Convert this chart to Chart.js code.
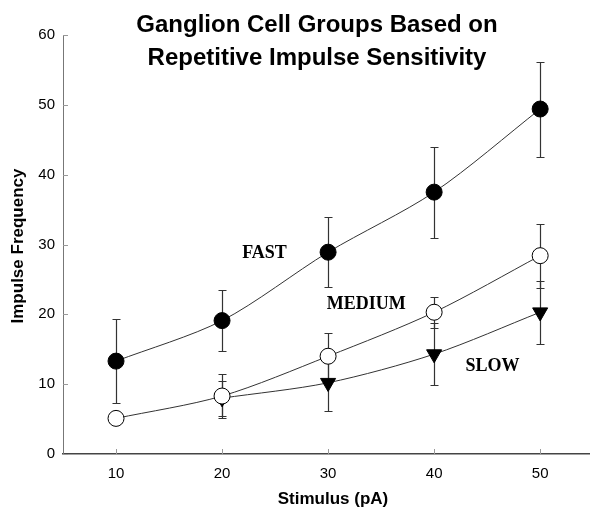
<!DOCTYPE html>
<html>
<head>
<meta charset="utf-8">
<script src="https://cdn.jsdelivr.net/npm/chart.js@4"></script>
<style>
  html, body { margin: 0; padding: 0; background: #fff; }
</style>
</head>
<body>
<canvas id="ganglion-chart" width="590" height="510"></canvas>
<script>
// Stimulus steps and the mean impulse frequency (+/- SD) for each cell group
const stimulus = [10, 20, 30, 40, 50];
const xTickValues = [10, 20, 30, 40, 50];

const fastMean = [13.3, 19.1, 28.9, 37.5, 49.4];
const fastSd = [6.0, 4.4, 5.0, 6.5, 6.8];

const mediumMean = [5.1, 8.3, 14.0, 20.3, 28.4];
const mediumSd = [0.8, 3.2, 3.3, 2.2, 4.6];

const slowMean = [null, 8.0, 10.2, 14.3, 20.3];
const slowSd = [null, 2.5, 4.1, 4.4, 4.5];

const groupNames = ["FAST", "MEDIUM", "SLOW"];
const titleLines = ["Ganglion Cell Groups Based on", "Repetitive Impulse Sensitivity"];
const xTitle = "Stimulus (pA)";
const yTitle = "Impulse Frequency";

const sdSets = [fastSd, mediumSd, slowSd];

// where each group name sits, in data units
const groupTagAt = [
  { x: 24.0, y: 28.8 },
  { x: 33.6, y: 21.5 },
  { x: 45.5, y: 12.6 },
];

const toPoints = (values) => stimulus.map((x, i) => ({ x: x, y: values[i] }));

// vertical error bars with caps, drawn under the lines and symbols
const errorBars = {
  id: "errorBars",
  beforeDatasetsDraw(chart) {
    const ctx = chart.ctx;
    const yScale = chart.scales.y;
    ctx.save();
    ctx.strokeStyle = "#333";
    ctx.lineWidth = 1.2;
    chart.data.datasets.forEach((ds, i) => {
      const meta = chart.getDatasetMeta(i);
      const sds = sdSets[i];
      ds.data.forEach((pt, j) => {
        if (pt.y == null || sds[j] == null) return;
        const px = Math.round(meta.data[j].x) + 0.5;
        const top = Math.round(yScale.getPixelForValue(pt.y + sds[j])) + 0.5;
        const bot = Math.round(yScale.getPixelForValue(pt.y - sds[j])) + 0.5;
        ctx.beginPath();
        ctx.moveTo(px, top);
        ctx.lineTo(px, bot);
        ctx.moveTo(px - 4, top);
        ctx.lineTo(px + 4, top);
        ctx.moveTo(px - 4, bot);
        ctx.lineTo(px + 4, bot);
        ctx.stroke();
      });
    });
    ctx.restore();
  },
};

// short inward tick marks on both axes
const innerTicks = {
  id: "innerTicks",
  beforeDatasetsDraw(chart) {
    const { ctx, chartArea, scales } = chart;
    ctx.save();
    ctx.strokeStyle = "#999";
    ctx.lineWidth = 1;
    ctx.beginPath();
    scales.y.ticks.forEach((t) => {
      const py = Math.round(scales.y.getPixelForValue(t.value)) + 0.5;
      ctx.moveTo(chartArea.left, py);
      ctx.lineTo(chartArea.left + 5, py);
    });
    scales.x.ticks.forEach((t) => {
      const px = Math.round(scales.x.getPixelForValue(t.value)) + 0.5;
      ctx.moveTo(px, chartArea.bottom);
      ctx.lineTo(px, chartArea.bottom - 5);
    });
    ctx.stroke();
    ctx.restore();
  },
};

// title, axis titles and the group names
const chartText = {
  id: "chartText",
  afterDraw(chart) {
    const { ctx, scales } = chart;
    ctx.save();
    ctx.fillStyle = "#000";
    ctx.textAlign = "center";
    ctx.textBaseline = "middle";

    ctx.font = "bold 24px 'Liberation Sans', Arial, sans-serif";
    ctx.fillText(titleLines[0], 317, 25);
    ctx.fillText(titleLines[1], 317, 58);

    ctx.font = "bold 17px 'Liberation Sans', Arial, sans-serif";
    ctx.fillText(xTitle, 333, 499);
    ctx.save();
    ctx.translate(18, 246);
    ctx.rotate(-Math.PI / 2);
    ctx.fillText(yTitle, 0, 0);
    ctx.restore();

    ctx.font = "bold 18px 'Liberation Serif', 'Times New Roman', serif";
    groupNames.forEach((name, i) => {
      const at = groupTagAt[i];
      ctx.fillText(name, scales.x.getPixelForValue(at.x), scales.y.getPixelForValue(at.y));
    });
    ctx.restore();
  },
};

const lineStyle = {
  borderColor: "#333",
  borderWidth: 1,
  tension: 0.3,
  fill: false,
  pointBorderColor: "#000",
  pointBorderWidth: 1,
};

const ctx = document.getElementById("ganglion-chart");

new Chart(ctx, {
  type: "line",
  data: {
    datasets: [
      {
        ...lineStyle,
        label: groupNames[0],
        data: toPoints(fastMean),
        pointStyle: "circle",
        pointRadius: 8,
        pointBackgroundColor: "#000",
      },
      {
        ...lineStyle,
        label: groupNames[1],
        data: toPoints(mediumMean),
        pointStyle: "circle",
        pointRadius: 8,
        pointBackgroundColor: "#fff",
      },
      {
        ...lineStyle,
        label: groupNames[2],
        data: toPoints(slowMean),
        pointStyle: "triangle",
        pointRotation: 180,
        pointRadius: 8.7,
        pointBackgroundColor: "#000",
      },
    ],
  },
  options: {
    responsive: false,
    animation: false,
    devicePixelRatio: 1,
    layout: {
      autoPadding: false,
      padding: { top: 35, right: 0, bottom: 0, left: 0 },
    },
    plugins: {
      legend: { display: false },
      tooltip: { enabled: false },
    },
    scales: {
      x: {
        type: "linear",
        min: 5,
        max: 54.7,
        afterBuildTicks: (scale) => {
          scale.ticks = xTickValues.map((v) => ({ value: v }));
        },
        afterFit: (scale) => {
          scale.height = 56;
          scale.paddingLeft = 0;
          scale.paddingRight = 0;
        },
        grid: { display: false, drawTicks: false },
        border: { display: true, color: "#444", width: 1.5 },
        ticks: {
          color: "#000",
          font: { family: "'Liberation Sans', Arial, sans-serif", size: 15 },
          padding: 11,
          maxRotation: 0,
          autoSkip: false,
        },
      },
      y: {
        min: 0,
        max: 60,
        afterFit: (scale) => {
          scale.width = 63;
        },
        grid: { display: false, drawTicks: false },
        border: { display: true, color: "#777", width: 1 },
        ticks: {
          stepSize: 10,
          color: "#000",
          font: { family: "'Liberation Sans', Arial, sans-serif", size: 15 },
          padding: 8,
        },
      },
    },
  },
  plugins: [errorBars, innerTicks, chartText],
});
</script>
</body>
</html>
